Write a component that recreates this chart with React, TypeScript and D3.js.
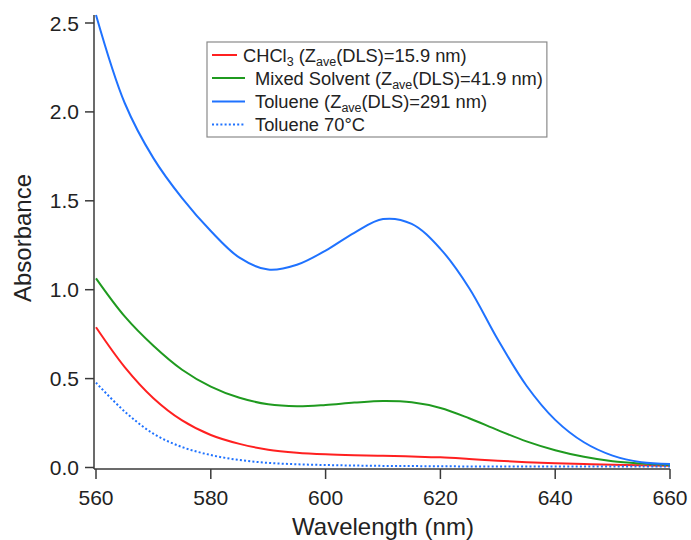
import React, { useLayoutEffect, useRef, useState } from "react";
import * as d3 from "d3";

const wavelengths = [560, 565, 570, 575, 580, 585, 590, 595, 600, 605, 610, 615, 620, 625, 630, 635, 640, 645, 650, 655, 660];
const chcl3 = [0.789, 0.565, 0.39, 0.265, 0.183, 0.133, 0.1, 0.083, 0.074, 0.069, 0.066, 0.062, 0.057, 0.048, 0.038, 0.03, 0.024, 0.019, 0.015, 0.012, 0.01];
const mixed = [1.064, 0.85, 0.685, 0.55, 0.455, 0.392, 0.356, 0.345, 0.352, 0.365, 0.374, 0.367, 0.335, 0.277, 0.21, 0.147, 0.097, 0.06, 0.035, 0.022, 0.014];
const toluene = [2.545, 2.05, 1.74, 1.515, 1.33, 1.18, 1.113, 1.14, 1.22, 1.32, 1.397, 1.37, 1.23, 1.01, 0.72, 0.46, 0.268, 0.142, 0.067, 0.03, 0.02];
const toluene70 = [0.477, 0.315, 0.19, 0.115, 0.07, 0.042, 0.026, 0.018, 0.014, 0.011, 0.009, 0.008, 0.007, 0.006, 0.006, 0.005, 0.005, 0.005, 0.005, 0.005, 0.005];
const xTicks = [560, 580, 600, 620, 640, 660];
const yTicks = [0, 0.5, 1.0, 1.5, 2.0, 2.5];

const FONT = "'Liberation Sans', Arial, Helvetica, sans-serif";
const RED = "#ff2020";
const GREEN = "#1f9a1f";
const BLUE = "#1f72ff";
const AXIS = "#3a3a3a";

export default function App() {
  const x = d3.scaleLinear().domain([560, 660]).range([96, 670]);
  const y = d3.scaleLinear().domain([0, 2.5]).range([467.5, 23]);
  const line = (vals: number[]) =>
    d3
      .line<number>()
      .x((_, i) => x(wavelengths[i]))
      .y((d) => y(d))
      .curve(d3.curveCatmullRom.alpha(0.5))(vals) || "";

  const legRef = useRef<SVGGElement>(null);
  const [legRight, setLegRight] = useState(545);
  useLayoutEffect(() => {
    if (legRef.current) {
      const b = legRef.current.getBBox();
      setLegRight(b.x + b.width + 4);
    }
  }, []);

  const series = [
    { vals: chcl3, color: RED, dash: undefined as string | undefined },
    { vals: mixed, color: GREEN, dash: undefined },
    { vals: toluene, color: BLUE, dash: undefined },
    { vals: toluene70, color: BLUE, dash: "2,2.2" },
  ];

  const axisY0 = 469;
  const axisX0 = 94;
  const legLeft = 207;
  const legTop = 42;
  const legBottom = 137;
  const rowY = [55, 78, 101.5, 124.5];
  const fs = 18.3;
  const sub = 12.5;

  return (
    <svg width={691} height={540} style={{ position: "absolute", left: 0, top: 0, background: "#fff" }} fontFamily={FONT}>
      {series.map((s, i) => (
        <path key={i} d={line(s.vals)} fill="none" stroke={s.color} strokeWidth={2} strokeDasharray={s.dash} />
      ))}
      <line x1={axisX0} x2={axisX0} y1={axisY0} y2={15} stroke={AXIS} strokeWidth={1.5} />
      <line x1={axisX0} x2={x(660)} y1={axisY0} y2={axisY0} stroke={AXIS} strokeWidth={1.5} />
      {yTicks.map((t) => (
        <g key={"y" + t}>
          <line x1={axisX0 - 9} x2={axisX0} y1={y(t)} y2={y(t)} stroke={AXIS} strokeWidth={1.5} />
          <text x={79} y={y(t)} dy="0.36em" textAnchor="end" fontSize={21} fill="#222">
            {t.toFixed(1)}
          </text>
        </g>
      ))}
      {xTicks.map((t) => (
        <g key={"x" + t}>
          <line x1={x(t)} x2={x(t)} y1={axisY0} y2={axisY0 + 10} stroke={AXIS} strokeWidth={1.5} />
          <text x={x(t)} y={505} textAnchor="middle" fontSize={21} fill="#222">
            {t}
          </text>
        </g>
      ))}
      <text x={383} y={535} textAnchor="middle" fontSize={24} fill="#222">
        Wavelength (nm)
      </text>
      <text transform="translate(31,238) rotate(-90)" textAnchor="middle" fontSize={24} fill="#222">
        Absorbance
      </text>
      <rect x={legLeft} y={legTop} width={legRight - legLeft} height={legBottom - legTop} fill="#fff" stroke="#8a8a8a" strokeWidth={1.2} />
      <line x1={212} x2={237} y1={rowY[0]} y2={rowY[0]} stroke={RED} strokeWidth={2} />
      <line x1={212} x2={245} y1={rowY[1]} y2={rowY[1]} stroke={GREEN} strokeWidth={2} />
      <line x1={212} x2={245} y1={rowY[2]} y2={rowY[2]} stroke={BLUE} strokeWidth={2} />
      <line x1={212} x2={245} y1={rowY[3]} y2={rowY[3]} stroke={BLUE} strokeWidth={2} strokeDasharray="2,2.2" />
      <g ref={legRef} fontSize={fs} fill="#222">
        <text x={243} y={rowY[0] + 6.5}>
          CHCl<tspan fontSize={sub} dy={4}>3</tspan>
          <tspan dy={-4}> (Z</tspan>
          <tspan fontSize={sub} dy={4}>ave</tspan>
          <tspan dy={-4}>(DLS)=15.9 nm)</tspan>
        </text>
        <text x={255} y={rowY[1] + 6.5}>
          Mixed Solvent (Z<tspan fontSize={sub} dy={4}>ave</tspan>
          <tspan dy={-4}>(DLS)=41.9 nm)</tspan>
        </text>
        <text x={255} y={rowY[2] + 6.5}>
          Toluene (Z<tspan fontSize={sub} dy={4}>ave</tspan>
          <tspan dy={-4}>(DLS)=291 nm)</tspan>
        </text>
        <text x={255} y={rowY[3] + 6.5}>Toluene 70°C</text>
      </g>
    </svg>
  );
}
